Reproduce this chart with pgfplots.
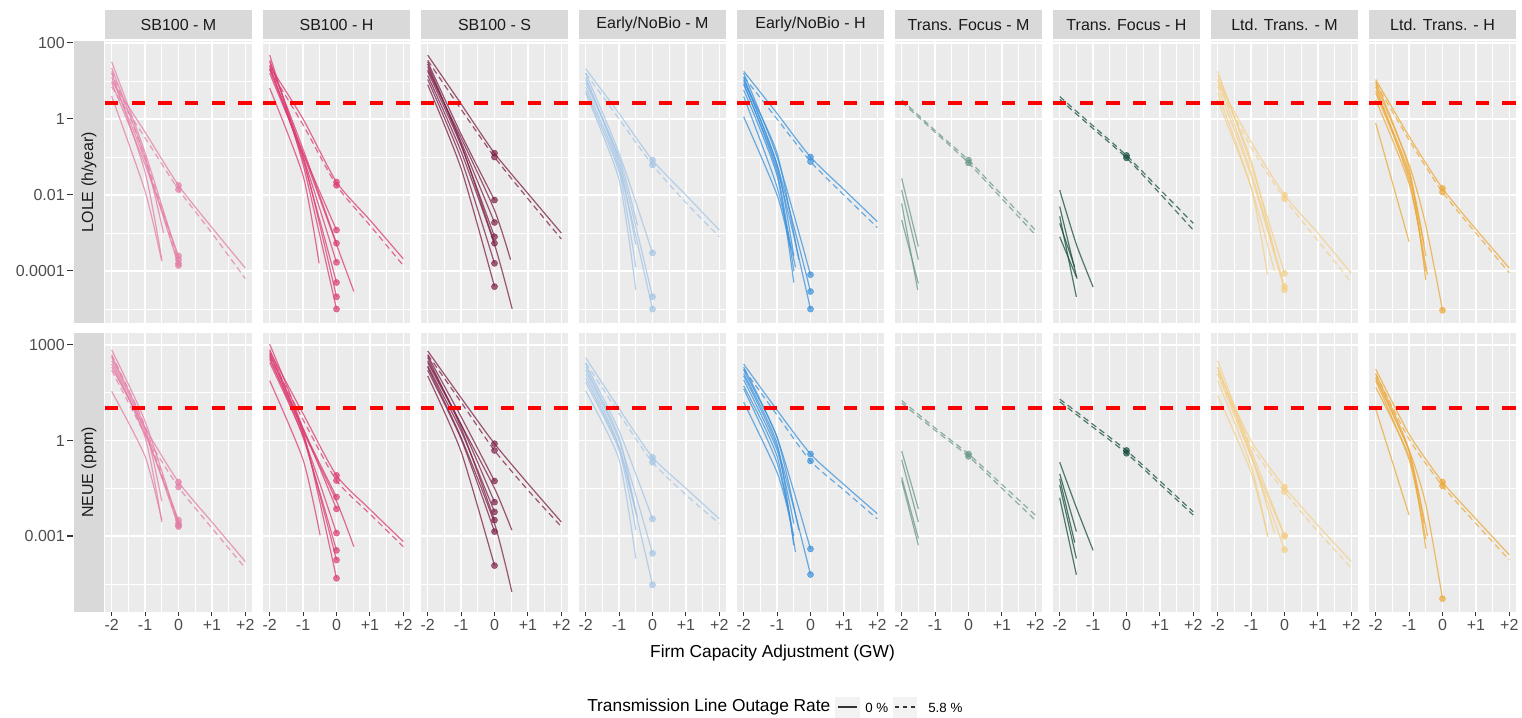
\documentclass[border=0pt]{standalone}
\usepackage{fontspec}
\setmainfont{Liberation Sans}
\usepackage{pgfplots}
\pgfplotsset{compat=1.18}

\definecolor{panelbg}{HTML}{EBEBEB}
\definecolor{stripbg}{HTML}{D9D9D9}
\definecolor{striptx}{HTML}{1A1A1A}
\definecolor{ticktx}{HTML}{4D4D4D}
\definecolor{tickln}{HTML}{333333}
\definecolor{keybg}{HTML}{F2F2F2}
\definecolor{cA}{HTML}{E47EA6}
\definecolor{cB}{HTML}{DB3D73}
\definecolor{cC}{HTML}{7D2048}
\definecolor{cD}{HTML}{A4C5E6}
\definecolor{cE}{HTML}{3C92DC}
\definecolor{cF}{HTML}{6A9889}
\definecolor{cG}{HTML}{184F40}
\definecolor{cH}{HTML}{F4CF8A}
\definecolor{cI}{HTML}{EBA93A}

\newcommand{\tkm}{\textcolor{tickln}{\rule[0.32em]{4pt}{0.85pt}}}
\newcommand{\colstrip}[2]{%
  \fill[stripbg] (#1pt,-7.5pt) rectangle ++(110.25pt,-22pt);
  \node[font=\fontsize{12}{14}\selectfont, text=striptx] at (#1pt+55.125pt,-18.6pt) {#2};}

\pgfplotsset{
  mypanel/.style={
    anchor=north west, scale only axis, width=110.25pt,
    xmin=-2.2, xmax=2.2,
    axis background/.style={fill=panelbg},
    axis line style={draw=none},
    xmajorgrids, ymajorgrids, xminorgrids, yminorgrids,
    major grid style={white, line width=1.2pt},
    minor grid style={white, line width=0.6pt},
    xtick={-2,-1,0,1,2}, minor xtick={-1.5,-0.5,0.5,1.5},
    tick align=outside, major tick length=3pt, minor tick length=0pt,
    xtick style={draw=none}, ytick style={draw=none},
    xticklabels={}, yticklabels={},
    ticklabel style={font=\fontsize{12}{14}\selectfont, text=ticktx},
  },
  mytop/.style={height=211.5pt, ymin=4.3e-6, ymax=113,
    ytick={0.0001,0.01,1,100}, minor ytick={1e-5,0.001,0.1,10}},
  mybot/.style={height=209.25pt, ymin=4.2e-6, ymax=2370,
    ytick={0.001,1,1000}, minor ytick={3.16e-5,0.0316,31.6},
    xtick pos=left, xtick style={draw=tickln, line width=0.8pt},
    xticklabels={-2,-1,0,+1,+2},
    xticklabel style={inner sep=0pt, yshift=-2.5pt}},
  myfirstT/.style={yticklabels={{0.0001\,\tkm},{0.01\,\tkm},{1\,\tkm},{100\,\tkm}},
    yticklabel style={anchor=east, inner sep=0pt, xshift=-21pt}},
  myfirstB/.style={yticklabels={{0.001\,\tkm},{1\,\tkm},{1000\,\tkm}},
    yticklabel style={anchor=east, inner sep=0pt, xshift=-21pt}},
  mysol/.style={mypc, line width=0.9pt, opacity=0.75, smooth, tension=0.4, mark=none},
  mydsh/.style={mysol, dash pattern=on 4.5pt off 3pt},
  mypts/.style={mypc, only marks, mark=*, mark size=2.3pt, opacity=0.7, mark options={draw=none}},
  myref/.style={color=red, line width=3pt, dash pattern=on 10pt off 10pt, mark=none, opacity=1},
}

\begin{document}
\begin{tikzpicture}
\path[use as bounding box] (0,0) rectangle (1141.5pt,-538.5pt);

% ---------------- top row: LOLE ----------------
\begin{axis}[ymode=log, mypanel, mytop, myfirstT, at={(78.75pt,-30.75pt)}, mypc/.style={cA}]
\addplot[mysol] coordinates {(-2,32) (-1,0.13) (0,2e-4)};
\addplot[mysol] coordinates {(-2,22) (-1,0.1) (-0.45,1e-3)};
\addplot[mysol] coordinates {(-2,16) (-1,0.04) (-0.5,2e-4)};
\addplot[mysol] coordinates {(-2,9) (-1,0.063) (0,2.5e-4)};
\addplot[mysol] coordinates {(-2,4) (-1,0.0126) (-0.5,1.8e-4)};
\addplot[mysol] coordinates {(-2,12.6) (-1,0.08) (0,1.4e-4)};
\addplot[mysol] coordinates {(-2,10) (-1,0.45) (0,0.018) (1,1.4e-3) (2,1.2e-4)};
\addplot[mydsh] coordinates {(-2,7) (-1,0.32) (0,0.014) (1,1e-3) (2,6.3e-5)};
\addplot[mydsh] coordinates {(-2,18) (-1,0.1) (0,1.6e-4)};
\addplot[mypts] coordinates {(0,2e-4) (0,2.5e-4) (0,1.4e-4) (0,0.018) (0,0.014) (0,1.6e-4)};
\addplot[myref] coordinates {(-2.2,2.6) (2.2,2.6)};
\end{axis}

\begin{axis}[ymode=log, mypanel, mytop, at={(197.25pt,-30.75pt)}, mypc/.style={cB}]
\addplot[mysol] coordinates {(-2,48) (-1,0.063) (0,1e-5)};
\addplot[mysol] coordinates {(-2,35) (-1,0.1) (0,2.1e-5)};
\addplot[mysol] coordinates {(-2,26) (-1,0.08) (0,5e-5)};
\addplot[mysol] coordinates {(-2,20) (-1,0.1) (0,1.7e-4)};
\addplot[mysol] coordinates {(-2,32) (-1,0.16) (0,5.4e-4)};
\addplot[mysol] coordinates {(-2,16) (-1,0.126) (0,1.2e-3)};
\addplot[mysol] coordinates {(-2,22) (-1,0.126) (0,5e-4) (0.52,2.9e-5)};
\addplot[mysol] coordinates {(-2,6.5) (-1,0.032) (-0.52,1.6e-4)};
\addplot[mysol] coordinates {(-2,25) (-1,1) (0,0.022) (1,2.2e-3) (2,2.1e-4)};
\addplot[mydsh] coordinates {(-2,20) (-1,0.7) (0,0.018) (1,1.6e-3) (2,1.4e-4)};
\addplot[mypts] coordinates {(0,1e-5) (0,2.1e-5) (0,5e-5) (0,1.7e-4) (0,5.4e-4) (0,1.2e-3) (0,0.022) (0,0.018)};
\addplot[myref] coordinates {(-2.2,2.6) (2.2,2.6)};
\end{axis}

\begin{axis}[ymode=log, mypanel, mytop, at={(315.75pt,-30.75pt)}, mypc/.style={cC}]
\addplot[mysol] coordinates {(-2,48) (-1,2.5) (0,0.126) (1,0.011) (2,1e-3)};
\addplot[mydsh] coordinates {(-2,35) (-1,1.8) (0,0.1) (1,8e-3) (2,7e-4)};
\addplot[mysol] coordinates {(-2,32) (-1,0.4) (0,7.4e-3)};
\addplot[mysol] coordinates {(-2,24) (-1,0.25) (0,1.9e-3)};
\addplot[mysol] coordinates {(-2,18) (-1,0.2) (0,8e-4)};
\addplot[mysol] coordinates {(-2,28) (-1,0.22) (0,5.4e-4)};
\addplot[mysol] coordinates {(-2,11) (-1,0.09) (0,1.6e-4)};
\addplot[mysol] coordinates {(-2,8) (-1,0.05) (0,3.9e-5)};
\addplot[mysol] coordinates {(-2,20) (-1,0.32) (0,4e-3) (0.48,2e-4)};
\addplot[mysol] coordinates {(-2,14) (-1,0.14) (0,5e-4) (0.53,1e-5)};
\addplot[mypts] coordinates {(0,0.126) (0,0.1) (0,7.4e-3) (0,1.9e-3) (0,8e-4) (0,5.4e-4) (0,1.6e-4) (0,3.9e-5)};
\addplot[myref] coordinates {(-2.2,2.6) (2.2,2.6)};
\end{axis}

\begin{axis}[ymode=log, mypanel, mytop, at={(434.25pt,-30.75pt)}, mypc/.style={cD}]
\addplot[mysol] coordinates {(-2,21) (-1,1.4) (0,0.083) (1,0.01) (2,1.2e-3)};
\addplot[mydsh] coordinates {(-2,16) (-1,1) (0,0.062) (1,6.3e-3) (2,8e-4)};
\addplot[mysol] coordinates {(-2,16) (-1,0.126) (0,3e-4)};
\addplot[mysol] coordinates {(-2,11) (-1,0.08) (0,2.1e-5)};
\addplot[mysol] coordinates {(-2,7) (-1,0.05) (0,1e-5)};
\addplot[mysol] coordinates {(-2,12.6) (-1,0.063) (-0.5,5e-4)};
\addplot[mysol] coordinates {(-2,4.8) (-1,0.025) (-0.5,3.2e-5)};
\addplot[mysol] coordinates {(-2,9) (-1,0.1) (-0.45,1.6e-3)};
\addplot[mysol] coordinates {(-2,5.6) (-1,0.04) (-0.5,1.26e-4)};
\addplot[mypts] coordinates {(0,0.083) (0,0.062) (0,3e-4) (0,2.1e-5) (0,1e-5)};
\addplot[myref] coordinates {(-2.2,2.6) (2.2,2.6)};
\end{axis}

\begin{axis}[ymode=log, mypanel, mytop, at={(552.75pt,-30.75pt)}, mypc/.style={cE}]
\addplot[mysol] coordinates {(-2,18) (-1,1.4) (0,0.1) (1,0.014) (2,2e-3)};
\addplot[mydsh] coordinates {(-2,13) (-1,1) (0,0.076) (1,0.01) (2,1.4e-3)};
\addplot[mysol] coordinates {(-2,16) (-1,0.1) (0,8e-5)};
\addplot[mysol] coordinates {(-2,11) (-1,0.063) (0,2.9e-5)};
\addplot[mysol] coordinates {(-2,8) (-1,0.05) (0,1e-5)};
\addplot[mysol] coordinates {(-2,12.6) (-1,0.063) (-0.5,2.5e-4)};
\addplot[mysol] coordinates {(-2,8.7) (-1,0.04) (-0.5,1e-4)};
\addplot[mysol] coordinates {(-2,5.8) (-1,0.032) (-0.5,5e-5)};
\addplot[mysol] coordinates {(-2,3.9) (-1,0.016) (-0.45,1.26e-4)};
\addplot[mysol] coordinates {(-2,1.15) (-1,0.01) (-0.6,4e-4)};
\addplot[mysol] coordinates {(-2,10) (-1,0.126) (-0.35,2e-4)};
\addplot[mypts] coordinates {(0,0.1) (0,0.076) (0,8e-5) (0,2.9e-5) (0,1e-5)};
\addplot[myref] coordinates {(-2.2,2.6) (2.2,2.6)};
\end{axis}

\begin{axis}[ymode=log, mypanel, mytop, at={(671.25pt,-30.75pt)}, mypc/.style={cF}]
\addplot[mydsh] coordinates {(-2,3.2) (-1,0.5) (0,0.083) (1,0.01) (2,1.2e-3)};
\addplot[mydsh] coordinates {(-2,2.8) (-1,0.45) (0,0.07) (1,8e-3) (2,9e-4)};
\addplot[mysol] coordinates {(-2,0.0275) (-1.5,4.4e-4)};
\addplot[mysol] coordinates {(-2,0.0135) (-1.5,2e-4)};
\addplot[mysol] coordinates {(-2,6e-3) (-1.52,3.2e-5)};
\addplot[mysol] coordinates {(-2,2.2e-3) (-1.5,4.7e-5)};
\addplot[mypts] coordinates {(0,0.083) (0,0.07)};
\addplot[myref] coordinates {(-2.2,2.6) (2.2,2.6)};
\end{axis}

\begin{axis}[ymode=log, mypanel, mytop, at={(789.75pt,-30.75pt)}, mypc/.style={cG}]
\addplot[mydsh] coordinates {(-2,3.9) (-1,0.66) (0,0.11) (1,0.014) (2,1.8e-3)};
\addplot[mydsh] coordinates {(-2,3.3) (-1,0.56) (0,0.095) (1,0.011) (2,1.2e-3)};
\addplot[mysol] coordinates {(-2,0.0135) (-1.5,5e-4) (-1,3.8e-5)};
\addplot[mysol] coordinates {(-2,5e-3) (-1.48,6.3e-5)};
\addplot[mysol] coordinates {(-2,2.75e-3) (-1.5,2.1e-5)};
\addplot[mysol] coordinates {(-2,8e-4) (-1.5,7e-5)};
\addplot[mysol] coordinates {(-2,1.8e-3) (-1.55,1.26e-4)};
\addplot[mypts] coordinates {(0,0.11) (0,0.095)};
\addplot[myref] coordinates {(-2.2,2.6) (2.2,2.6)};
\end{axis}

\begin{axis}[ymode=log, mypanel, mytop, at={(908.25pt,-30.75pt)}, mypc/.style={cH}]
\addplot[mysol] coordinates {(-2,10) (-1,0.25) (0,0.01) (1,1e-3) (2,8.7e-5)};
\addplot[mydsh] coordinates {(-2,8) (-1,0.18) (0,8e-3) (1,6.3e-4) (2,5e-5)};
\addplot[mysol] coordinates {(-2,18) (-1,0.063) (0,8.7e-5)};
\addplot[mysol] coordinates {(-2,11) (-1,0.04) (0,3.9e-5)};
\addplot[mysol] coordinates {(-2,7) (-1,0.032) (0,3.2e-5)};
\addplot[mysol] coordinates {(-2,4.8) (-1,0.016) (-0.51,8e-5)};
\addplot[mysol] coordinates {(-2,3.2) (-1,0.016) (-0.3,1e-4)};
\addplot[mysol] coordinates {(-2,14) (-1,0.08) (-0.3,3.2e-4)};
\addplot[mypts] coordinates {(0,0.01) (0,8e-3) (0,8.7e-5) (0,3.9e-5) (0,3.2e-5)};
\addplot[myref] coordinates {(-2.2,2.6) (2.2,2.6)};
\end{axis}

\begin{axis}[ymode=log, mypanel, mytop, at={(1026.75pt,-30.75pt)}, mypc/.style={cI}]
\addplot[mysol] coordinates {(-2,11) (-1,0.35) (0,0.015) (1,1.26e-3) (2,1.2e-4)};
\addplot[mydsh] coordinates {(-2,9) (-1,0.28) (0,0.012) (1,1e-3) (2,9e-5)};
\addplot[mysol] coordinates {(-2,10) (-1,0.05) (-0.5,5.8e-5)};
\addplot[mysol] coordinates {(-2,7) (-1,0.025) (-0.5,1e-4)};
\addplot[mysol] coordinates {(-2,4.8) (-1,0.032) (-0.5,2.5e-4)};
\addplot[mysol] coordinates {(-2,3.2) (-1,0.02) (-0.45,8e-5)};
\addplot[mysol] coordinates {(-2,0.78) (-1,5.9e-4)};
\addplot[mysol] coordinates {(-2,8) (-1,0.063) (-0.5,1.6e-3) (0,9.3e-6)};
\addplot[mysol] coordinates {(-2,5.6) (-1,0.04) (-0.55,5e-4)};
\addplot[mypts] coordinates {(0,0.015) (0,0.012) (0,9.3e-6)};
\addplot[myref] coordinates {(-2.2,2.6) (2.2,2.6)};
\end{axis}

% ---------------- bottom row: NEUE ----------------
\begin{axis}[ymode=log, mypanel, mybot, myfirstB, at={(78.75pt,-249.75pt)}, mypc/.style={cA}]
\addplot[mysol] coordinates {(-2,700) (-1,4) (0,2.5e-3)};
\addplot[mysol] coordinates {(-2,450) (-1,2.5) (-0.5,0.0126)};
\addplot[mysol] coordinates {(-2,320) (-1,1.26) (-0.5,2.8e-3)};
\addplot[mysol] coordinates {(-2,250) (-1,1.6) (0,3.2e-3)};
\addplot[mysol] coordinates {(-2,35) (-1,0.32) (-0.5,3.2e-3)};
\addplot[mysol] coordinates {(-2,400) (-1,2) (0,2e-3)};
\addplot[mysol] coordinates {(-2,200) (-1,2.5) (0,0.05) (1,2.8e-3) (2,1.6e-4)};
\addplot[mydsh] coordinates {(-2,160) (-1,1.6) (0,0.035) (1,1.8e-3) (2,1e-4)};
\addplot[mydsh] coordinates {(-2,500) (-1,2.8) (0,2.2e-3)};
\addplot[mypts] coordinates {(0,2.5e-3) (0,3.2e-3) (0,2e-3) (0,0.05) (0,0.035) (0,2.2e-3)};
\addplot[myref] coordinates {(-2.2,10.5) (2.2,10.5)};
\end{axis}

\begin{axis}[ymode=log, mypanel, mybot, at={(197.25pt,-249.75pt)}, mypc/.style={cB}]
\addplot[mysol] coordinates {(-2,1050) (-1,2) (0,4.8e-5)};
\addplot[mysol] coordinates {(-2,720) (-1,1.6) (0,1.8e-4)};
\addplot[mysol] coordinates {(-2,400) (-1,1.26) (0,3.6e-4)};
\addplot[mysol] coordinates {(-2,280) (-1,1.4) (0,1.26e-3)};
\addplot[mysol] coordinates {(-2,500) (-1,2.5) (0,7.2e-3)};
\addplot[mysol] coordinates {(-2,350) (-1,2.2) (0,0.017)};
\addplot[mysol] coordinates {(-2,560) (-1,2) (0,0.0126) (0.52,4.7e-4)};
\addplot[mysol] coordinates {(-2,76) (-1,0.25) (-0.49,1.07e-3)};
\addplot[mysol] coordinates {(-2,630) (-1,7) (0,0.081) (1,7e-3) (2,6.8e-4)};
\addplot[mydsh] coordinates {(-2,450) (-1,4.5) (0,0.056) (1,5e-3) (2,4.7e-4)};
\addplot[mypts] coordinates {(0,4.8e-5) (0,1.8e-4) (0,3.6e-4) (0,1.26e-3) (0,7.2e-3) (0,0.017) (0,0.081) (0,0.056)};
\addplot[myref] coordinates {(-2.2,10.5) (2.2,10.5)};
\end{axis}

\begin{axis}[ymode=log, mypanel, mybot, at={(315.75pt,-249.75pt)}, mypc/.style={cC}]
\addplot[mysol] coordinates {(-2,650) (-1,22) (0,0.8) (1,0.045) (2,2.8e-3)};
\addplot[mydsh] coordinates {(-2,500) (-1,16) (0,0.49) (1,0.028) (2,2e-3)};
\addplot[mysol] coordinates {(-2,460) (-1,5.6) (0,0.054)};
\addplot[mysol] coordinates {(-2,320) (-1,3.2) (0,0.0117)};
\addplot[mysol] coordinates {(-2,220) (-1,2) (0,5.8e-3)};
\addplot[mysol] coordinates {(-2,400) (-1,2.5) (0,3.2e-3)};
\addplot[mysol] coordinates {(-2,160) (-1,1.12) (0,1.4e-3)};
\addplot[mysol] coordinates {(-2,107) (-1,0.45) (0,1.2e-4)};
\addplot[mysol] coordinates {(-2,280) (-1,3.2) (0,0.032) (0.52,1.55e-3)};
\addplot[mysol] coordinates {(-2,200) (-1,1.26) (0,2.5e-3) (0.52,1.8e-5)};
\addplot[mypts] coordinates {(0,0.8) (0,0.49) (0,0.054) (0,0.0117) (0,5.8e-3) (0,3.2e-3) (0,1.4e-3) (0,1.2e-4)};
\addplot[myref] coordinates {(-2.2,10.5) (2.2,10.5)};
\end{axis}

\begin{axis}[ymode=log, mypanel, mybot, at={(434.25pt,-249.75pt)}, mypc/.style={cD}]
\addplot[mysol] coordinates {(-2,400) (-1,10) (0,0.3) (1,0.032) (2,3.5e-3)};
\addplot[mydsh] coordinates {(-2,280) (-1,7) (0,0.21) (1,0.02) (2,2.5e-3)};
\addplot[mysol] coordinates {(-2,250) (-1,2) (0,3.5e-3)};
\addplot[mysol] coordinates {(-2,160) (-1,1) (0,2.9e-4)};
\addplot[mysol] coordinates {(-2,120) (-1,0.63) (0,3e-5)};
\addplot[mysol] coordinates {(-2,200) (-1,1.26) (-0.55,9.3e-3)};
\addplot[mysol] coordinates {(-2,36) (-1,0.25) (-0.5,2e-4)};
\addplot[mysol] coordinates {(-2,68) (-1,0.5) (-0.5,1.6e-3)};
\addplot[mysol] coordinates {(-2,90) (-1,0.63) (-0.45,4e-3)};
\addplot[mypts] coordinates {(0,0.3) (0,0.21) (0,3.5e-3) (0,2.9e-4) (0,3e-5)};
\addplot[myref] coordinates {(-2.2,10.5) (2.2,10.5)};
\end{axis}

\begin{axis}[ymode=log, mypanel, mybot, at={(552.75pt,-249.75pt)}, mypc/.style={cE}]
\addplot[mysol] coordinates {(-2,250) (-1,9) (0,0.38) (1,0.042) (2,5.1e-3)};
\addplot[mydsh] coordinates {(-2,175) (-1,6.3) (0,0.23) (1,0.028) (2,3.5e-3)};
\addplot[mysol] coordinates {(-2,200) (-1,1.26) (0,4e-4)};
\addplot[mysol] coordinates {(-2,107) (-1,0.63) (0,6.3e-5)};
\addplot[mysol] coordinates {(-2,126) (-1,0.8) (-0.5,5.2e-4)};
\addplot[mysol] coordinates {(-2,80) (-1,0.5) (-0.5,2.5e-3)};
\addplot[mysol] coordinates {(-2,52) (-1,0.32) (-0.45,3.2e-4)};
\addplot[mysol] coordinates {(-2,42) (-1,0.2) (-0.5,1e-3)};
\addplot[mysol] coordinates {(-2,16) (-1,0.1) (-0.6,3.2e-3)};
\addplot[mysol] coordinates {(-2,160) (-1,1.26) (-0.35,1.6e-3)};
\addplot[mypts] coordinates {(0,0.38) (0,0.23) (0,4e-4) (0,6.3e-5)};
\addplot[myref] coordinates {(-2.2,10.5) (2.2,10.5)};
\end{axis}

\begin{axis}[ymode=log, mypanel, mybot, at={(671.25pt,-249.75pt)}, mypc/.style={cF}]
\addplot[mydsh] coordinates {(-2,18) (-1,2.5) (0,0.38) (1,0.042) (2,4.6e-3)};
\addplot[mydsh] coordinates {(-2,15) (-1,2.1) (0,0.32) (1,0.032) (2,3.2e-3)};
\addplot[mysol] coordinates {(-2,0.47) (-1.5,7.2e-3)};
\addplot[mysol] coordinates {(-2,0.25) (-1.5,2.8e-3)};
\addplot[mysol] coordinates {(-2,0.07) (-1.5,8.5e-4)};
\addplot[mysol] coordinates {(-2,0.056) (-1.5,5.2e-4)};
\addplot[mypts] coordinates {(0,0.38) (0,0.32)};
\addplot[myref] coordinates {(-2.2,10.5) (2.2,10.5)};
\end{axis}

\begin{axis}[ymode=log, mypanel, mybot, at={(789.75pt,-249.75pt)}, mypc/.style={cG}]
\addplot[mydsh] coordinates {(-2,20) (-1,3.2) (0,0.49) (1,0.054) (2,5.8e-3)};
\addplot[mydsh] coordinates {(-2,16.6) (-1,2.6) (0,0.4) (1,0.043) (2,4.6e-3)};
\addplot[mysol] coordinates {(-2,0.21) (-1.5,7.9e-3) (-1,3.6e-4)};
\addplot[mysol] coordinates {(-2,0.091) (-1.5,1.4e-3)};
\addplot[mysol] coordinates {(-2,0.04) (-1.5,2e-4)};
\addplot[mysol] coordinates {(-2,0.016) (-1.5,6.2e-5)};
\addplot[mysol] coordinates {(-2,0.063) (-1.55,6.3e-4)};
\addplot[mypts] coordinates {(0,0.49) (0,0.4)};
\addplot[myref] coordinates {(-2.2,10.5) (2.2,10.5)};
\end{axis}

\begin{axis}[ymode=log, mypanel, mybot, at={(908.25pt,-249.75pt)}, mypc/.style={cH}]
\addplot[mysol] coordinates {(-2,160) (-1,1) (0,0.035) (1,2.2e-3) (2,1.6e-4)};
\addplot[mydsh] coordinates {(-2,126) (-1,0.7) (0,0.025) (1,1.4e-3) (2,1e-4)};
\addplot[mysol] coordinates {(-2,320) (-1,0.5) (0,1.07e-3)};
\addplot[mysol] coordinates {(-2,195) (-1,0.32) (0,3.8e-4)};
\addplot[mysol] coordinates {(-2,123) (-1,0.32) (0,1e-3)};
\addplot[mysol] coordinates {(-2,76) (-1,0.16) (-0.5,9.5e-4)};
\addplot[mysol] coordinates {(-2,26) (-1,0.1) (-0.5,1e-3)};
\addplot[mysol] coordinates {(-2,200) (-1,0.4) (-0.3,1.26e-3)};
\addplot[mypts] coordinates {(0,0.035) (0,0.025) (0,1.07e-3) (0,3.8e-4) (0,1e-3)};
\addplot[myref] coordinates {(-2.2,10.5) (2.2,10.5)};
\end{axis}

\begin{axis}[ymode=log, mypanel, mybot, at={(1026.75pt,-249.75pt)}, mypc/.style={cI}]
\addplot[mysol] coordinates {(-2,175) (-1,1.6) (0,0.05) (1,3.5e-3) (2,2.6e-4)};
\addplot[mydsh] coordinates {(-2,126) (-1,1.12) (0,0.038) (1,2.5e-3) (2,1.8e-4)};
\addplot[mysol] coordinates {(-2,123) (-1,0.5) (-0.5,4.1e-4)};
\addplot[mysol] coordinates {(-2,76) (-1,0.25) (-0.5,8e-4)};
\addplot[mysol] coordinates {(-2,47) (-1,0.32) (-0.55,2.5e-3)};
\addplot[mysol] coordinates {(-2,9.8) (-1,4.6e-3)};
\addplot[mysol] coordinates {(-2,89) (-1,0.5) (-0.5,0.01) (0,1.1e-5)};
\addplot[mysol] coordinates {(-2,100) (-1,0.45) (-0.45,1e-3)};
\addplot[mypts] coordinates {(0,0.05) (0,0.038) (0,1.1e-5)};
\addplot[myref] coordinates {(-2.2,10.5) (2.2,10.5)};
\end{axis}

% ---------------- strips ----------------
\colstrip{78.75}{SB100 - M}
\colstrip{197.25}{SB100 - H}
\colstrip{315.75}{SB100 - S}
\colstrip{434.25}{Early/NoBio - M}
\colstrip{552.75}{Early/NoBio - H}
\colstrip{671.25}{Trans. Focus - M}
\colstrip{789.75}{Trans. Focus - H}
\colstrip{908.25}{Ltd. Trans. - M}
\colstrip{1026.75}{Ltd. Trans. - H}

\fill[stripbg] (55.5pt,-30.75pt) rectangle (78pt,-242.25pt);
\node[rotate=90, font=\fontsize{12}{14}\selectfont, text=striptx] at (66.75pt,-136.5pt) {LOLE (h/year)};
\fill[stripbg] (55.5pt,-249.75pt) rectangle (78pt,-459pt);
\node[rotate=90, font=\fontsize{12}{14}\selectfont, text=striptx] at (66.75pt,-354.4pt) {NEUE (ppm)};

% ---------------- axis title and legend ----------------
\node[font=\fontsize{13}{15}\selectfont, text=black] at (579.4pt,-489.4pt) {Firm Capacity Adjustment (GW)};

\node[anchor=west, inner sep=0pt, font=\fontsize{13}{15}\selectfont] at (440.25pt,-530.6pt) {Transmission Line Outage Rate};
\fill[keybg] (626.25pt,-522.75pt) rectangle (645pt,-538.5pt);
\draw[tickln, line width=0.8pt] (628.5pt,-530.25pt) -- (642.75pt,-530.25pt);
\node[anchor=west, inner sep=0pt, font=\fontsize{10}{12}\selectfont] at (648.75pt,-530.6pt) {0 \%};
\fill[keybg] (669.75pt,-522.75pt) rectangle (687.75pt,-538.5pt);
\draw[tickln, line width=0.8pt, dash pattern=on 3pt off 3pt] (671.25pt,-530.25pt) -- (686.25pt,-530.25pt);
\node[anchor=west, inner sep=0pt, font=\fontsize{10}{12}\selectfont] at (696pt,-530.6pt) {5.8 \%};
\end{tikzpicture}
\end{document}
